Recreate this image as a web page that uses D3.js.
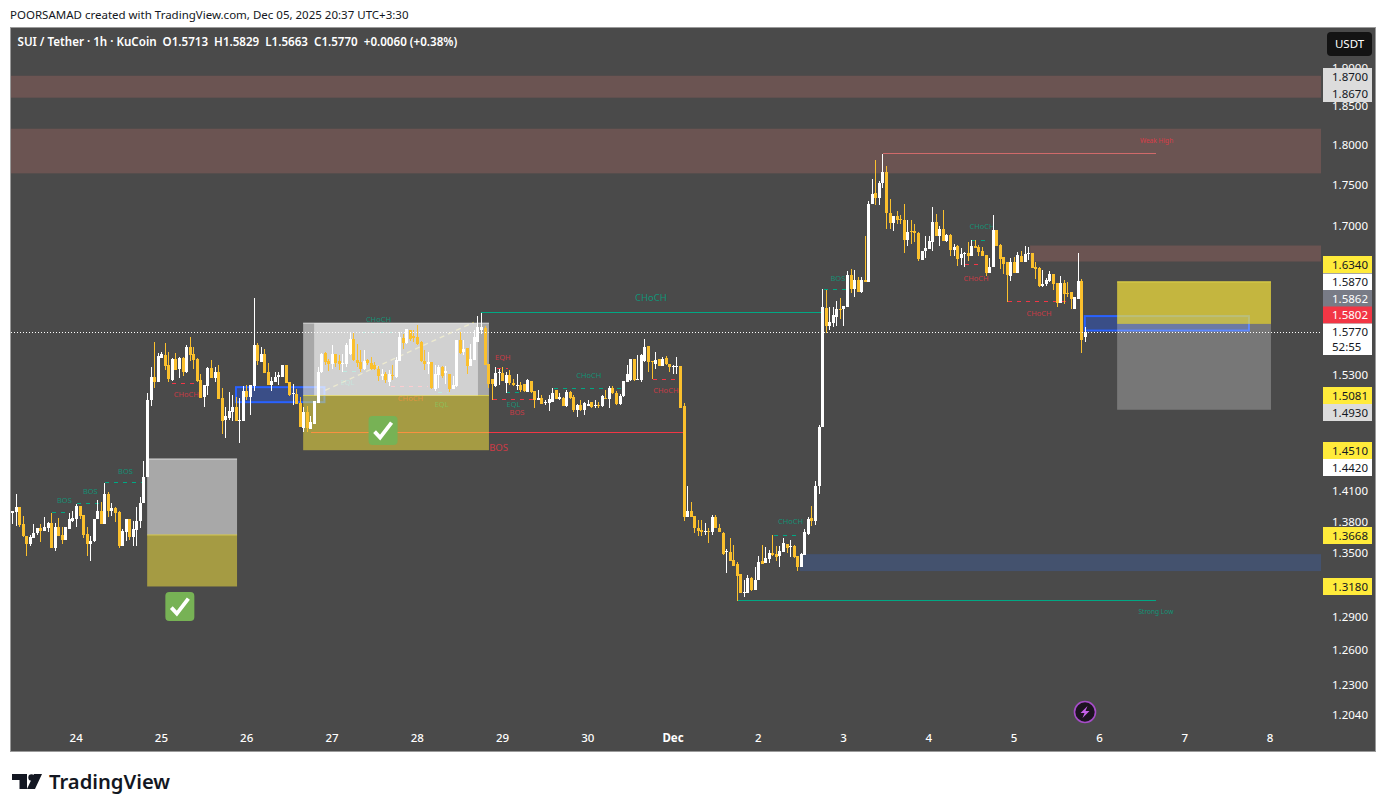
<!DOCTYPE html>
<html><head><meta charset="utf-8">
<script src="https://cdnjs.cloudflare.com/ajax/libs/d3/7.8.5/d3.min.js"></script>
<style>
html,body{margin:0;padding:0;background:#fff;overflow:hidden}
text{font-family:"Noto Sans",sans-serif}
</style></head><body><svg id="c" width="1386" height="812"></svg>
<script>
// Candles per session: [open, high, low, close]
const nov23=[[1.3878,1.3904,1.3778,1.3904],[1.389,1.4069,1.3758,1.3944],[1.3944,1.3944,1.3742,1.3768],[1.3778,1.3855,1.3652,1.3655],[1.3662,1.3662,1.3471,1.3585],[1.3581,1.3671,1.3565,1.3652],[1.3639,1.3778,1.3639,1.3687],[1.3684,1.3732,1.3671,1.3732],[1.3732,1.3778,1.3597,1.371],[1.371,1.3845,1.371,1.3745],[1.3738,1.3793,1.3693,1.3787],[1.3787,1.388,1.3546,1.3546],[1.3546,1.3783,1.3518,1.3748],[1.3748,1.3832,1.3662,1.3662],[1.3671,1.3742,1.3578,1.362],[1.3623,1.3748,1.362,1.3748],[1.373,1.388,1.373,1.382],[1.3806,1.3904,1.379,1.3835]];
const nov24=[[1.3826,1.397,1.3742,1.3954],[1.3954,1.3954,1.3823,1.3855],[1.3865,1.3865,1.3639,1.3671],[1.368,1.3742,1.3471,1.3585],[1.3585,1.3662,1.3417,1.3613],[1.3613,1.3826,1.3597,1.3826],[1.382,1.401,1.382,1.3904],[1.3904,1.3986,1.3778,1.3778],[1.3778,1.4181,1.3778,1.4069],[1.4069,1.4086,1.3839,1.3904],[1.3904,1.3983,1.3855,1.3934],[1.3934,1.3944,1.379,1.3884],[1.389,1.3904,1.3543,1.3565],[1.3565,1.3726,1.3565,1.371],[1.37,1.3826,1.3613,1.3826],[1.3826,1.3826,1.362,1.3652],[1.3652,1.3806,1.3565,1.373],[1.372,1.3944,1.3559,1.3806],[1.3806,1.4036,1.3736,1.3983],[1.3983,1.4404,1.3983,1.424],[1.424,1.5112,1.424,1.5037],[1.5037,1.539,1.4966,1.5283],[1.5283,1.5665,1.5158,1.5228],[1.5228,1.5536,1.5228,1.5511]];
const nov25=[[1.5486,1.5547,1.5486,1.5529],[1.5522,1.5654,1.5359,1.5402],[1.5413,1.5547,1.5228,1.5261],[1.525,1.549,1.5239,1.5479],[1.5479,1.5544,1.5359,1.5359],[1.537,1.55,1.5265,1.549],[1.549,1.55,1.5294,1.5337],[1.5337,1.5632,1.5326,1.561],[1.561,1.5721,1.5457,1.5522],[1.5533,1.561,1.5366,1.5468],[1.5479,1.549,1.5228,1.5239],[1.5246,1.5315,1.5055,1.5055],[1.507,1.5197,1.4956,1.5197],[1.5186,1.539,1.5087,1.5381],[1.5381,1.5464,1.5272,1.5272],[1.5272,1.539,1.5221,1.5337],[1.5337,1.5413,1.5048,1.5048],[1.5058,1.5161,1.4681,1.4816],[1.4826,1.4963,1.464,1.4868],[1.4847,1.5122,1.4826,1.492],[1.4903,1.509,1.4816,1.4963],[1.4963,1.5062,1.4816,1.4816],[1.4816,1.5052,1.4588,1.4826],[1.4816,1.5186,1.4816,1.5133]];
const nov26=[[1.5133,1.5197,1.5034,1.507],[1.507,1.5197,1.4878,1.5197],[1.5186,1.6155,1.5133,1.5632],[1.5632,1.5654,1.5413,1.5457],[1.5446,1.561,1.5446,1.5533],[1.5533,1.5587,1.5326,1.5326],[1.5337,1.5435,1.5197,1.5197],[1.5197,1.5275,1.5133,1.5239],[1.5228,1.5337,1.5228,1.5283],[1.5275,1.5333,1.5197,1.5304],[1.5283,1.5413,1.5275,1.5413],[1.5413,1.5413,1.5218,1.5218],[1.5228,1.5228,1.508,1.509],[1.5097,1.52,1.4984,1.5112],[1.5102,1.515,1.4995,1.4995],[1.5005,1.507,1.4754,1.4754],[1.4743,1.4956,1.4702,1.491],[1.491,1.497,1.4695,1.4743],[1.4733,1.4868,1.4733,1.4805],[1.4785,1.5027,1.4785,1.5027],[1.5005,1.539,1.5005,1.5337],[1.5337,1.5544,1.5326,1.5533],[1.554,1.5551,1.5404,1.5441],[1.5448,1.5478,1.534,1.5423]];
const nov27=[[1.5423,1.5625,1.5368,1.5525],[1.5525,1.5525,1.5386,1.5434],[1.5448,1.5514,1.535,1.5415],[1.5423,1.5533,1.5332,1.5434],[1.5415,1.565,1.5386,1.5625],[1.5533,1.577,1.5514,1.569],[1.569,1.577,1.5448,1.5459],[1.5467,1.5643,1.5386,1.543],[1.5437,1.557,1.5332,1.5368],[1.5368,1.557,1.535,1.5448],[1.5459,1.5478,1.5404,1.543],[1.543,1.5496,1.5357,1.5368],[1.5412,1.5441,1.535,1.5368],[1.5368,1.5397,1.5236,1.5286],[1.5286,1.5368,1.5243,1.5315],[1.5315,1.5332,1.5215,1.5243],[1.5225,1.5357,1.5179,1.5307],[1.5304,1.5404,1.5243,1.5286],[1.5279,1.5496,1.5272,1.5459],[1.5452,1.577,1.5448,1.5716],[1.5709,1.5753,1.5588,1.5654],[1.5654,1.5808,1.5643,1.5808],[1.5797,1.5797,1.5669,1.5698],[1.5724,1.5789,1.5661,1.5705]];
const nov28=[[1.5716,1.5846,1.5625,1.5643],[1.5661,1.5672,1.5441,1.5448],[1.5448,1.557,1.535,1.5415],[1.5423,1.5551,1.5315,1.5441],[1.5441,1.5441,1.5154,1.5161],[1.5154,1.5404,1.5129,1.5307],[1.5297,1.5404,1.5161,1.5386],[1.5386,1.5397,1.5272,1.529],[1.5322,1.5397,1.5207,1.534],[1.5315,1.5315,1.5118,1.5154],[1.5154,1.5286,1.5147,1.519],[1.5179,1.5687,1.5172,1.568],[1.568,1.577,1.5533,1.5544],[1.5551,1.568,1.5514,1.5588],[1.5595,1.5595,1.5315,1.5397],[1.5397,1.5643,1.5397,1.547],[1.5467,1.5789,1.5459,1.5716],[1.5661,1.5947,1.5661,1.5827],[1.5789,1.5988,1.5745,1.5827],[1.582,1.5835,1.5404,1.5404],[1.5423,1.5423,1.5161,1.52],[1.5257,1.5257,1.5036,1.5207],[1.5179,1.5386,1.5172,1.5322],[1.5322,1.5368,1.519,1.5332]];
const nov29=[[1.5325,1.5386,1.5232,1.5232],[1.5215,1.5332,1.5111,1.5297],[1.5297,1.5357,1.5197,1.5218],[1.5218,1.5254,1.5179,1.519],[1.5179,1.5307,1.5136,1.519],[1.519,1.5225,1.5118,1.5136],[1.52,1.5207,1.5118,1.5129],[1.5118,1.5254,1.5118,1.5243],[1.5232,1.5232,1.5107,1.5118],[1.5129,1.5129,1.4949,1.5036],[1.5036,1.514,1.5029,1.505],[1.505,1.5089,1.4994,1.4994],[1.5001,1.5036,1.4984,1.5008],[1.5005,1.5082,1.4914,1.5047],[1.5012,1.5165,1.5012,1.5107],[1.5136,1.5136,1.504,1.504],[1.504,1.5107,1.5029,1.5064],[1.5057,1.5064,1.4966,1.4966],[1.4966,1.5136,1.4959,1.5118],[1.5118,1.5129,1.5047,1.5054],[1.5064,1.5082,1.4907,1.4931],[1.4931,1.4994,1.4854,1.4977],[1.4977,1.5029,1.4917,1.4924],[1.4924,1.5012,1.4872,1.5005]];
const nov30=[[1.4973,1.5036,1.4966,1.4987],[1.5012,1.5012,1.4952,1.4959],[1.4973,1.5029,1.4952,1.4984],[1.4977,1.5012,1.4952,1.4966],[1.4966,1.5082,1.4959,1.5071],[1.5057,1.5136,1.5043,1.5043],[1.504,1.5179,1.4949,1.5158],[1.5158,1.5179,1.51,1.5107],[1.5111,1.5129,1.4984,1.4994],[1.4994,1.51,1.4977,1.5079],[1.5071,1.5232,1.5064,1.5232],[1.5225,1.5404,1.5225,1.5307],[1.5243,1.5478,1.5232,1.547],[1.547,1.5478,1.5236,1.5243],[1.5243,1.5514,1.5243,1.5254],[1.525,1.5525,1.5225,1.5522],[1.5448,1.569,1.5441,1.5606],[1.5614,1.5614,1.5332,1.5441],[1.5452,1.5452,1.5261,1.5445],[1.5423,1.5551,1.5368,1.5467],[1.547,1.5478,1.5393,1.5397],[1.54,1.55,1.5397,1.5474],[1.5485,1.5503,1.5404,1.5415],[1.5423,1.5423,1.5332,1.5386]];
const dec01=[[1.5386,1.5404,1.5315,1.5397],[1.5393,1.5496,1.5315,1.5397],[1.5393,1.5393,1.4952,1.4952],[1.4965,1.5005,1.3807,1.384],[1.384,1.4153,1.384,1.3905],[1.3905,1.3994,1.3846,1.3846],[1.3856,1.3856,1.3691,1.3732],[1.3739,1.3814,1.3662,1.3707],[1.372,1.3814,1.3656,1.37],[1.37,1.3784,1.3672,1.371],[1.371,1.3736,1.3589,1.37],[1.37,1.3866,1.3672,1.3846],[1.3846,1.3866,1.3732,1.3732],[1.3739,1.3775,1.3694,1.3694],[1.3691,1.37,1.348,1.3486],[1.3505,1.3534,1.3305,1.3515],[1.3505,1.3643,1.3417,1.3423],[1.343,1.3575,1.337,1.3376],[1.3392,1.341,1.3049,1.3277],[1.3292,1.3292,1.3123,1.3123],[1.3123,1.3236,1.308,1.313],[1.3123,1.3286,1.3123,1.3255],[1.3255,1.3267,1.3135,1.3148],[1.3151,1.3361,1.3151,1.3236]];
const dec02=[[1.3236,1.347,1.3236,1.3414],[1.3423,1.3575,1.3392,1.3392],[1.3398,1.3556,1.3398,1.3451],[1.3442,1.3524,1.3404,1.3499],[1.3496,1.3668,1.347,1.348],[1.3489,1.3562,1.3423,1.3461],[1.347,1.3562,1.3358,1.3518],[1.3508,1.3643,1.3508,1.3594],[1.3585,1.3585,1.3499,1.3546],[1.3553,1.3622,1.3461,1.3562],[1.3562,1.3572,1.3451,1.3461],[1.347,1.347,1.3321,1.3358],[1.3358,1.3499,1.3358,1.3489],[1.3473,1.3726,1.3473,1.37],[1.3681,1.3846,1.3672,1.3827],[1.3836,1.3951,1.3758,1.3807],[1.3807,1.4194,1.3768,1.4153],[1.4153,1.4775,1.4072,1.4754],[1.4754,1.6252,1.4754,1.6048],[1.6042,1.6241,1.5759,1.5844],[1.5844,1.6058,1.5799,1.5888],[1.5877,1.6058,1.5833,1.5967],[1.5944,1.6126,1.5844,1.6031],[1.6035,1.6153,1.5913,1.6027]];
const dec03=[[1.6027,1.6069,1.5844,1.6069],[1.6057,1.647,1.6057,1.6423],[1.6423,1.649,1.6207,1.6256],[1.6256,1.6478,1.6169,1.6365],[1.6365,1.64,1.6226,1.6226],[1.6226,1.64,1.6214,1.6365],[1.6365,1.688,1.6342,1.6342],[1.6334,1.7298,1.6334,1.7263],[1.7263,1.7569,1.7263,1.7386],[1.7403,1.7803,1.7247,1.7333],[1.7337,1.7551,1.7255,1.7522],[1.7522,1.7884,1.7458,1.7657],[1.7657,1.7733,1.6962,1.7154],[1.7154,1.7324,1.6962,1.703],[1.703,1.7122,1.6942,1.7122],[1.7122,1.7182,1.7022,1.707],[1.7078,1.7134,1.7022,1.707],[1.7074,1.7268,1.6673,1.6834],[1.6834,1.707,1.6763,1.693],[1.6942,1.7074,1.6783,1.6922],[1.6934,1.7022,1.6802,1.6918],[1.6918,1.6922,1.6585,1.66],[1.6599,1.6705,1.6588,1.6705],[1.6705,1.688,1.662,1.674]];
const dec04=[[1.6728,1.688,1.6724,1.6822],[1.681,1.723,1.6705,1.704],[1.704,1.7138,1.688,1.688],[1.688,1.7,1.6763,1.6966],[1.6966,1.719,1.6814,1.6822],[1.6822,1.69,1.68,1.6893],[1.6893,1.69,1.664,1.6716],[1.6716,1.6783,1.664,1.675],[1.6763,1.6775,1.6521,1.6611],[1.6623,1.674,1.6541,1.667],[1.667,1.6693,1.651,1.668],[1.668,1.681,1.658,1.6635],[1.6635,1.683,1.6635,1.6763],[1.6763,1.683,1.674,1.674],[1.675,1.6775,1.664,1.6693],[1.6705,1.6744,1.664,1.664],[1.6654,1.6654,1.6412,1.6443],[1.6447,1.6619,1.6447,1.6517],[1.6513,1.7135,1.6513,1.6954],[1.6954,1.6954,1.6763,1.6763],[1.6775,1.6783,1.6489,1.6611],[1.6634,1.6634,1.6431,1.6552],[1.6568,1.6568,1.6107,1.6416],[1.6412,1.6622,1.6355,1.6576]];
const dec05=[[1.6576,1.663,1.6439,1.6447],[1.6447,1.6693,1.6447,1.6658],[1.6646,1.6705,1.6572,1.6572],[1.6572,1.6763,1.6572,1.667],[1.667,1.6744,1.6588,1.668],[1.668,1.668,1.6505,1.6505],[1.6517,1.6572,1.6374,1.6494],[1.6505,1.6509,1.6283,1.629],[1.629,1.6478,1.6283,1.6313],[1.6313,1.6384,1.629,1.6359],[1.6347,1.647,1.634,1.6435],[1.6435,1.6435,1.6244,1.6313],[1.6325,1.6325,1.6058,1.6103],[1.6103,1.641,1.6095,1.6325],[1.6325,1.6359,1.6088,1.6198],[1.6214,1.6343,1.617,1.621],[1.6218,1.6218,1.6031,1.6149],[1.6035,1.6161,1.6035,1.6161],[1.6149,1.668,1.6149,1.6355],[1.6355,1.6374,1.5538,1.5688],[1.5713,1.5829,1.5663,1.577]];
const candles=[...nov23,...nov24,...nov25,...nov26,...nov27,...nov28,...nov29,...nov30,...dec01,...dec02,...dec03,...dec04,...dec05];

const axisPrices=[1.9,1.85,1.8,1.75,1.7,1.53,1.41,1.38,1.35,1.29,1.26,1.23,1.204];
const dayTickIndex=[18,42,66,90,114,138,162,186,210,234,258,282,306,330,354];
const dayTickLabels=["24","25","26","27","28","29","30","Dec","2","3","4","5","6","7","8"];
const lastPrice=1.577;

// zones: [fromIndex, toIndex (null = to the scale), top price, bottom price]
const supplyZones=[[null,null,1.8897,1.8607],[null,null,1.8204,1.764],[286.4,null,1.6764,1.6576]];
const demandZone=[221.6,null,1.3484,1.3324];
const orderBlocks=[[62.9,87.8,1.5170,1.5010],[301.8,348,1.5950,1.5788]];
// trade setups: [from, to, target, entry, stop]
const setups=[[37.9,63.2,1.442,1.3668,1.318],[81.8,134.1,1.587,1.5081,1.451]];
const setupRight=[310.9,354.2,1.634,1.5862,1.493];
const innerBox=[84.9,131,1.587,1.5081];

// structure dashes: [from, to, price, tone]
const dashedLevels=[[11.2,15.7,1.3889,"g"],[18.2,25.3,1.3978,"g"],[26.1,36.8,1.4186,"g"],[45,52.9,1.5211,"r"],[106.4,117,1.5179,"r"],[93,97,1.534,"g"],[98.5,108.6,1.5768,"g"],[119.7,122.7,1.5115,"g"],[136.5,139.6,1.5373,"r"],[135.1,147.8,1.5041,"r"],[139,143,1.5115,"g"],[152.3,171.7,1.5158,"g"],[180.2,187.8,1.5261,"r"],[214.3,221.9,1.3668,"g"],[228.4,235,1.6253,"g"],[268,272.5,1.6548,"r"],[270,274.3,1.6835,"g"],[280.2,297,1.6116,"r"]];
const solidLevels=[[131.9,227.6,1.5996,"g"],[84,188.7,1.4694,"r"],[245,321.8,1.7895,"h"],[204.2,321.8,1.3054,"g"]];
const smallTags=[["BOS",14.6,1.4007,"g"],["BOS",21.9,1.4096,"g"],["BOS",31.8,1.4297,"g"],["CHoCH",48.9,1.5094,"r"],["EQL",94.3,1.5222,"g"],["CHoCH",112,1.5051,"r"],["EQL",120.8,1.4988,"g"],["CHoCH",103,1.5913,"g"],["EQH",138,1.5491,"r"],["EQL",141,1.4988,"g"],["BOS",142,1.4904,"r"],["CHoCH",162.2,1.5297,"g"],["CHoCH",183.9,1.5136,"r"],["CHoCH",219,1.3801,"g"],["BOS",232.3,1.6379,"g"],["CHoCH",272.9,1.6989,"g"],["CHoCH",271.2,1.6379,"r"],["CHoCH",288.9,1.598,"r"]];
const bigTags=[["CHoCH",179.7,1.6161,"g"],["BOS",136.8,1.4541,"r"]];
const tinyTags=[["Weak High",322,1.8051,"r"],["Strong Low",321.8,1.2947,"g"]];
const checkPrices=[[47.1,1.2994],[104.3,1.4712]];

// price-scale badges: value, background, text colour, row centre on the scale column
const badgeValues=["1.8700","1.8670","1.6340","1.5870","1.5862","1.5802","1.5770","1.5081","1.4930","1.4510","1.4420","1.3668","1.3180"];
const badgeFills=["#dcdcdc","#dcdcdc","#ffeb3b","#ffffff","#787b86","#f23645","#ffffff","#ffeb3b","#dcdcdc","#ffeb3b","#ffffff","#ffeb3b","#ffeb3b"];
const badgeInk=["#131722","#131722","#131722","#131722","#ffffff","#ffffff","#131722","#131722","#131722","#131722","#131722","#131722","#131722"];
const badgeRows=[76.5,93.5,264.5,282,298.5,315,332,395.5,412.5,450.5,467.5,535.5,586.5];

const svg=d3.select("#c");
const plot={l:11,r:1321,t:28,b:751};
const x=d3.scaleLinear().domain([0,100]).range([12.5,367.8]);
const y=d3.scaleLog().domain([1.8,1.204]).range([144.7,714.7]);
const tone={g:"#00a884",r:"#f23645",h:"#d06a6a"};

svg.append("rect").attr("x",10.5).attr("y",27.5).attr("width",1365).attr("height",724).attr("fill","#4a4a4a").attr("stroke","#9a9a9a");
svg.append("defs").append("clipPath").attr("id","pc").append("rect").attr("x",plot.l).attr("y",plot.t).attr("width",plot.r-plot.l).attr("height",plot.b-plot.t);
const g=svg.append("g").attr("clip-path","url(#pc)");
const xL=d=>d==null?plot.l:x(d), xR=d=>d==null?plot.r:x(d);
function zone(layer,z,fill){return layer.append("rect").attr("x",xL(z[0])).attr("width",xR(z[1])-xL(z[0])).attr("y",y(z[2])).attr("height",y(z[3])-y(z[2])).attr("fill",fill);}

g.selectAll(null).data(supplyZones).join(d=>d.append("rect")).attr("x",d=>xL(d[0])).attr("width",d=>xR(d[1])-xL(d[0])).attr("y",d=>y(d[2])).attr("height",d=>y(d[3])-y(d[2])).attr("fill","#6b5452");
zone(g,demandZone,"#44526e");
orderBlocks.forEach(b=>{zone(g,b,"#3a4e87").attr("stroke","#2962ff").attr("stroke-width",2);});

// levels and tags sit beneath the translucent setups
const lv=g.append("g").attr("shape-rendering","crispEdges");
lv.selectAll("line.d").data(dashedLevels).join("line").attr("x1",d=>x(d[0])).attr("x2",d=>x(d[1])).attr("y1",d=>Math.round(y(d[2]))+.5).attr("y2",d=>Math.round(y(d[2]))+.5).attr("stroke",d=>tone[d[3]]).attr("stroke-dasharray","4 5");
lv.selectAll("line.s").data(solidLevels).join("line").attr("x1",d=>x(d[0])).attr("x2",d=>x(d[1])).attr("y1",d=>Math.round(y(d[2]))+.5).attr("y2",d=>Math.round(y(d[2]))+.5).attr("stroke",d=>tone[d[3]]);
g.append("line").attr("x1",x(88)).attr("x2",x(129.8)).attr("y1",y(1.5136)).attr("y2",y(1.588)).attr("stroke","#ffeb3b").attr("stroke-dasharray","5 4").attr("stroke-width",1.3).attr("opacity",.6);
g.selectAll("text.s").data(smallTags).join("text").attr("x",d=>x(d[1])).attr("y",d=>y(d[2])+2.5).attr("text-anchor","middle").attr("font-size",7.5).attr("fill",d=>tone[d[3]]).attr("fill-opacity",.75).text(d=>d[0]);

// setups
setups.forEach(s=>{
 g.append("rect").attr("x",x(s[0])).attr("width",x(s[1])-x(s[0])).attr("y",y(s[2])).attr("height",y(s[3])-y(s[2])).attr("fill","rgba(255,255,255,.52)");
 g.append("rect").attr("x",x(s[0])).attr("width",x(s[1])-x(s[0])).attr("y",y(s[3])).attr("height",y(s[4])-y(s[3])).attr("fill","rgba(255,235,59,.5)");
 g.append("line").attr("x1",x(s[0])).attr("x2",x(s[1])).attr("y1",y(s[2])).attr("y2",y(s[2])).attr("stroke","#dcdcdc");
 g.append("line").attr("x1",x(s[0])).attr("x2",x(s[1])).attr("y1",y(s[3])).attr("y2",y(s[3])).attr("stroke","#d8cc55");
});
zone(g,innerBox,"rgba(255,255,255,.48)");
{const s=setupRight;
 g.append("rect").attr("x",x(s[0])).attr("width",x(s[1])-x(s[0])).attr("y",y(s[2])).attr("height",y(s[3])-y(s[2])).attr("fill","rgba(255,235,59,.68)");
 g.append("rect").attr("x",x(s[0])).attr("width",x(s[1])-x(s[0])).attr("y",y(s[3])).attr("height",y(s[4])-y(s[3])).attr("fill","rgba(255,255,255,.25)");
 g.append("line").attr("x1",x(s[0])).attr("x2",x(s[1])).attr("y1",y(s[2])).attr("y2",y(s[2])).attr("stroke","#e6d84a");
}
// tags above setups
g.selectAll("text.b").data(bigTags).join("text").attr("x",d=>x(d[1])).attr("y",d=>y(d[2])+3.5).attr("text-anchor","middle").attr("font-size",9.5).attr("fill",d=>tone[d[3]]).attr("fill-opacity",.8).text(d=>d[0]);
g.selectAll("text.t").data(tinyTags).join("text").attr("x",d=>x(d[1])).attr("y",d=>y(d[2])+2).attr("text-anchor","middle").attr("font-size",6.6).attr("fill",d=>tone[d[3]]).attr("fill-opacity",.8).text(d=>d[0]);

// candles
const cx=(d,i)=>Math.floor(x(i));
const cg=g.append("g").attr("shape-rendering","crispEdges");
const col=d=>d[3]>=d[0]?"#ffffff":"#fbc02d";
cg.selectAll("rect.w").data(candles).join("rect").attr("x",cx).attr("width",1).attr("y",d=>y(d[1])).attr("height",d=>y(d[2])-y(d[1])).attr("fill",col);
cg.selectAll("rect.b").data(candles).join("rect").attr("x",(d,i)=>cx(d,i)-1).attr("width",3).attr("y",d=>y(Math.max(d[0],d[3]))).attr("height",d=>Math.max(1,y(Math.min(d[0],d[3]))-y(Math.max(d[0],d[3])))).attr("fill",col);

// last price line
g.append("line").attr("x1",plot.l).attr("x2",plot.r).attr("y1",Math.round(y(lastPrice))+.5).attr("y2",Math.round(y(lastPrice))+.5).attr("stroke","#fff").attr("stroke-dasharray","1 2");

// check badges
const checks=g.selectAll("g.ck").data(checkPrices).join("g").attr("transform",d=>`translate(${x(d[0])},${y(d[1])})`);
checks.append("rect").attr("x",-14.5).attr("y",-14.5).attr("width",29).attr("height",29).attr("rx",4).attr("fill","#77b255");
checks.append("path").attr("d","M-8.5 1 L-3 7 L8.5 -8").attr("fill","none").attr("stroke","#fff").attr("stroke-width",3.8);

// axes
const ay=svg.append("g").attr("transform","translate(1324,0)").call(d3.axisRight(y).tickValues(axisPrices).tickSize(0).tickPadding(8).tickFormat(d3.format(".4f")));
ay.select(".domain").remove();
ay.selectAll("text").attr("fill","#fff").attr("font-size",11.5).attr("font-family","'Noto Sans',sans-serif");
const ax=svg.append("g").attr("transform","translate(-0.8,730)").call(d3.axisBottom(x).tickValues(dayTickIndex).tickSize(0).tickPadding(4).tickFormat((d,i)=>dayTickLabels[i]));
ax.select(".domain").remove();
ax.selectAll("text").attr("fill","#fff").attr("font-size",11.5).attr("font-family","'Noto Sans',sans-serif").attr("font-weight",d=>d===186?700:500);

// badges
const bd=svg.append("g");
badgeValues.forEach((v,i)=>{
 const h=v==="1.5770"?31.5:17;
 bd.append("rect").attr("x",1323).attr("y",badgeRows[i]-8.5).attr("width",49).attr("height",h).attr("fill",badgeFills[i]);
 bd.append("text").attr("x",1332).attr("y",badgeRows[i]+4).attr("font-size",11.5).attr("fill",badgeInk[i]).text(v);
});
bd.append("text").attr("x",1332).attr("y",351).attr("font-size",11.5).attr("fill","#131722").text("52:55");

// USDT
svg.append("rect").attr("x",1327).attr("y",32).attr("width",45).attr("height",24).attr("rx",4).attr("fill","#131313");
svg.append("text").attr("x",1349.5).attr("y",48).attr("text-anchor","middle").attr("font-size",11.5).attr("fill","#fff").text("USDT");

// bolt
const bolt=svg.append("g").attr("transform","translate(1085,712)");
bolt.append("circle").attr("r",10.5).attr("fill","#1c1320").attr("stroke","#a64cc8").attr("stroke-width",1.6);
bolt.append("path").attr("d","M2.5 -6 L-4.5 1 L-0.5 1 L-2.5 6 L4.5 -1 L0.5 -1 Z").attr("fill","#c560e8");

// titles
svg.append("text").attr("x",10).attr("y",18.5).attr("font-size",11.5).attr("fill","#131722").text("POORSAMAD created with TradingView.com, Dec 05, 2025 20:37 UTC+3:30");
svg.append("text").attr("x",17.5).attr("y",46).attr("font-size",11.6).attr("font-weight",600).attr("fill","#fff").attr("xml:space","preserve").text("SUI / Tether · 1h · KuCoin  O1.5713  H1.5829  L1.5663  C1.5770  +0.0060 (+0.38%)");

// logo
const lg=svg.append("g").attr("fill","#131722");
lg.append("path").attr("d","M12 774 H27 V789 H19.5 V780 H12 Z");
lg.append("circle").attr("cx",31.5).attr("cy",777.5).attr("r",3.2);
lg.append("path").attr("d","M34 774 H42 L35 789 H27 Z");
svg.append("text").attr("x",49).attr("y",789).attr("font-family","Inter,sans-serif").attr("font-size",20.2).attr("font-weight",600).attr("fill","#131722").text("TradingView");
</script></body></html>
